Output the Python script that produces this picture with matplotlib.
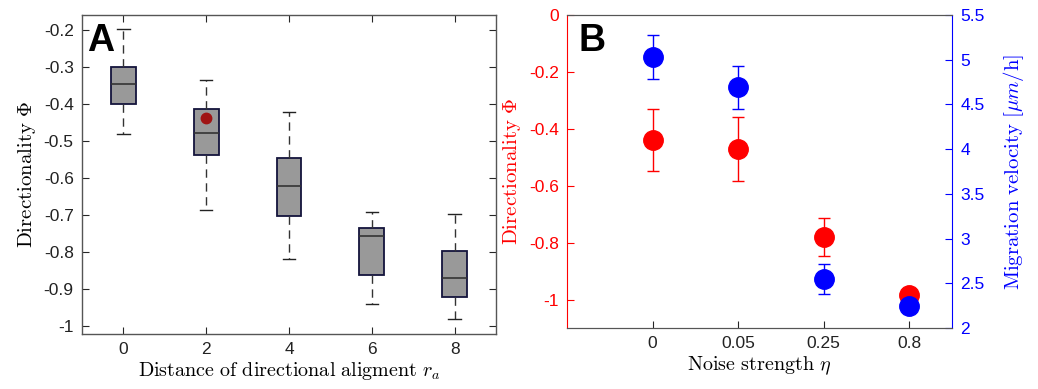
import matplotlib
matplotlib.use("Agg")
import matplotlib.pyplot as plt

plt.rcParams['font.family'] = ['Liberation Sans', 'DejaVu Sans']
plt.rcParams['mathtext.fontset'] = 'cm'

# ---- Panel A data ----
ra_positions = [0, 2, 4, 6, 8]
whisker_hi = [-0.198, -0.335, -0.422, -0.692, -0.698]
q3_vals = [-0.301, -0.413, -0.545, -0.736, -0.798]
median_vals = [-0.347, -0.478, -0.621, -0.756, -0.871]
q1_vals = [-0.401, -0.539, -0.703, -0.862, -0.922]
whisker_lo = [-0.480, -0.686, -0.820, -0.941, -0.983]
highlight_x = [2]
highlight_y = [-0.437]

# ---- Panel B data ----
noise_labels = ['0', '0.05', '0.25', '0.8']
dir_mean = [-0.440, -0.471, -0.779, -0.984]
dir_err = [0.108, 0.113, 0.067, 0.0]
vel_mean = [5.03, 4.69, 2.55, 2.25]
vel_err = [0.25, 0.24, 0.17, 0.0]

W, H = 1038, 389
fig = plt.figure(figsize=(W / 100, H / 100), dpi=100)

axis_gray = '#262626'
TICK_FS = 12.5
LABEL_FS = 14.5

# ================= Panel A =================
axA = fig.add_axes([82 / W, 1 - 334 / H, (496 - 82) / W, (334 - 15) / H])
stats = []
for i in range(len(ra_positions)):
    stats.append(dict(med=median_vals[i], q1=q1_vals[i], q3=q3_vals[i],
                      whislo=whisker_lo[i], whishi=whisker_hi[i], fliers=[]))
axA.bxp(stats, positions=ra_positions, widths=0.6, patch_artist=True,
        showfliers=False,
        boxprops=dict(facecolor='#999999', edgecolor='#14143c', linewidth=1.3),
        medianprops=dict(color='#333333', linewidth=1.2),
        whiskerprops=dict(color='#333333', linewidth=1.0, linestyle=(0, (6, 4))),
        capprops=dict(color='#222222', linewidth=1.0),
        capwidths=0.3)
axA.plot(highlight_x, highlight_y, 'o', color='#a01414', markersize=7.5, zorder=5)
axA.set_xlim(-1, 9)
axA.set_ylim(-1.0225, -0.159)
axA.set_xticks(ra_positions)
axA.set_xticklabels([str(v) for v in ra_positions])
yt = [-1, -0.9, -0.8, -0.7, -0.6, -0.5, -0.4, -0.3, -0.2]
axA.set_yticks(yt)
axA.set_yticklabels(['-1' if v == -1 else ('%.1f' % v) for v in yt])
axA.tick_params(direction='in', length=5, width=0.8, color=axis_gray,
                labelsize=TICK_FS, top=True, right=True, pad=6, labelcolor='#222222')
for s in axA.spines.values():
    s.set_color('#555555')
    s.set_linewidth(1.0)
axA.set_xlabel(r'$\mathrm{Distance\ of\ directional\ aligment}\ r_a$', fontsize=LABEL_FS, labelpad=2)
axA.set_ylabel(r'$\mathrm{Directionality}\ \Phi$', fontsize=LABEL_FS + 0.5, labelpad=4)
axA.text(0.012, 0.975, 'A', transform=axA.transAxes, fontsize=27, fontweight='bold',
         va='top', ha='left')

# ================= Panel B =================
axB = fig.add_axes([567 / W, 1 - 328 / H, (952 - 567) / W, (328 - 15) / H])
xb = list(range(1, len(noise_labels) + 1))
axB.errorbar(xb, dir_mean, yerr=dir_err, fmt='o', color='red', ecolor='red',
             elinewidth=1.0, capsize=4, capthick=1.0, markersize=14, zorder=3)
axB.set_xlim(0, 4.5)
axB.set_ylim(-1.1, 0)
axB.set_xticks(xb)
axB.set_xticklabels(noise_labels)
axB.set_yticks([-1, -0.8, -0.6, -0.4, -0.2, 0])
axB.set_yticklabels(['-1', '-0.8', '-0.6', '-0.4', '-0.2', '0'])
axB.tick_params(axis='x', direction='in', length=5, width=0.8, color=axis_gray,
                labelsize=TICK_FS, pad=6, labelcolor='#222222')
axB.tick_params(axis='y', direction='in', length=5, width=0.8, colors='red',
                labelsize=TICK_FS, pad=6)
axB.spines['left'].set_color('red')
axB.spines['bottom'].set_color('#555555')
axB.spines['top'].set_color('#555555')
axB.spines['right'].set_visible(False)
axB.set_xlabel(r'$\mathrm{Noise\ strength}\ \eta$', fontsize=LABEL_FS, labelpad=2)
axB.set_ylabel(r'$\mathrm{Directionality}\ \Phi$', fontsize=LABEL_FS + 0.5, color='red', labelpad=4)
axB.text(0.03, 0.975, 'B', transform=axB.transAxes, fontsize=27, fontweight='bold',
         va='top', ha='left', zorder=6)

axB2 = axB.twinx()
axB2.errorbar(xb, vel_mean, yerr=vel_err, fmt='o', color='blue', ecolor='blue',
              elinewidth=1.0, capsize=4, capthick=1.0, markersize=14, zorder=4)
axB2.set_ylim(2, 5.5)
vt = [2, 2.5, 3, 3.5, 4, 4.5, 5, 5.5]
axB2.set_yticks(vt)
axB2.set_yticklabels(['%g' % v for v in vt])
axB2.tick_params(axis='y', direction='in', length=5, width=0.8, colors='blue',
                 labelsize=TICK_FS, pad=6)
axB2.spines['right'].set_color('blue')
axB2.spines['left'].set_visible(False)
axB2.spines['top'].set_color('#555555')
axB2.spines['bottom'].set_color('#555555')
axB2.set_ylabel(r'$\mathrm{Migration\ velocity}\ [\mu m/\mathrm{h}]$', fontsize=LABEL_FS + 0.5,
                color='blue', labelpad=12)

fig.savefig('out.png', dpi=100)
